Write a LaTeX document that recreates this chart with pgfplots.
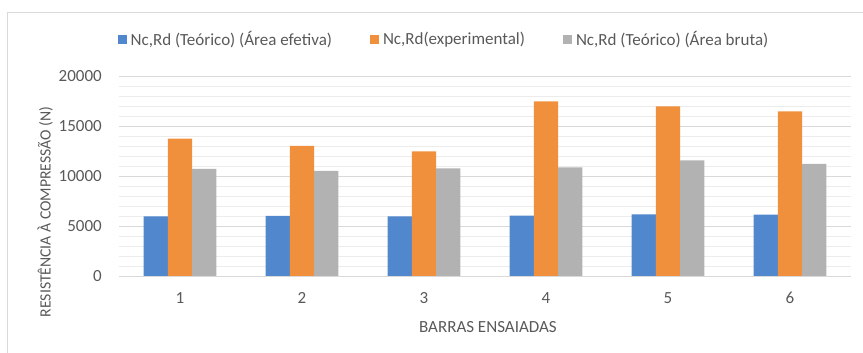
\documentclass[border=0pt]{standalone}
\usepackage{pgfplots}
\pgfplotsset{compat=1.18}
\usepackage{fontspec}
\setmainfont{Carlito}
\definecolor{cblue}{RGB}{80,135,205}
\definecolor{corange}{RGB}{240,144,60}
\definecolor{cgrey}{RGB}{178,178,178}
\definecolor{ctext}{RGB}{89,89,89}
\definecolor{gridmaj}{RGB}{217,217,217}
\definecolor{gridmin}{RGB}{236,236,236}
\definecolor{frame}{RGB}{217,217,217}
\begin{document}
\begin{tikzpicture}[x=1pt,y=1pt]
\path[use as bounding box] (0,0) rectangle (863,353);
\draw[frame, line width=0.8pt] (7.5,0) -- (7.5,341) -- (863,341);
\begin{axis}[
  at={(119pt,77pt)}, anchor=south west,
  scale only axis, width=732pt, height=200pt,
  xmin=0.5, xmax=6.5, ymin=0, ymax=20000,
  ybar=0pt, bar width=24.3pt,
  xtick={1,2,3,4,5,6},
  ytick={0,5000,10000,15000,20000},
  scaled y ticks=false,
  minor ytick={1000,2000,3000,4000,6000,7000,8000,9000,11000,12000,13000,14000,16000,17000,18000,19000},
  ymajorgrids, yminorgrids,
  major grid style={draw=gridmaj, line width=0.9pt},
  minor grid style={draw=gridmin, line width=0.9pt},
  axis line style={draw=none},
  major tick length=0pt, minor tick length=0pt,
  /pgf/number format/assume math mode=true,
  /pgf/number format/set thousands separator={},
  tick label style={font=\fontsize{17}{20}\selectfont, text=ctext, inner sep=0pt},
  yticklabel style={anchor=east, xshift=-17pt},
  xticklabel style={anchor=center, yshift=-22pt},
  xlabel={BARRAS ENSAIADAS},
  xlabel style={at={(axis description cs:0.504,-0.255)}, anchor=center, font=\fontsize{17}{20}\selectfont, text=ctext, inner sep=0pt},
  ylabel={RESISTÊNCIA À COMPRESSÃO (N)},
  ylabel style={at={(axis description cs:-0.101,0.32)}, anchor=center, rotate=0, font=\fontsize{15.7}{18}\selectfont, text=ctext, inner sep=0pt},
  legend columns=3,
  legend style={at={(axis description cs:0.4426,1.1835)}, anchor=center, draw=none, fill=none,
    font=\fontsize{17}{20}\selectfont, text=ctext, nodes={inner sep=0pt},
    /tikz/every odd column/.append style={column sep=4pt},
    /tikz/every even column/.append style={column sep=38pt}},
  legend cell align=left,
]
\addplot[fill=cblue, draw=none, legend image code/.code={\fill[cblue] (0pt,-4.5pt) rectangle (9pt,4.5pt);}] coordinates {(1,5970) (2,6020) (3,5970) (4,6040) (5,6170) (6,6140)};
\addplot[fill=corange, draw=none, legend image code/.code={\fill[corange] (0pt,-4.5pt) rectangle (9pt,4.5pt);}] coordinates {(1,13730) (2,13000) (3,12470) (4,17470) (5,16970) (6,16470)};
\addplot[fill=cgrey, draw=none, legend image code/.code={\fill[cgrey] (0pt,-4.5pt) rectangle (9pt,4.5pt);}] coordinates {(1,10700) (2,10500) (3,10770) (4,10870) (5,11570) (6,11200)};
\legend{{Nc,Rd (Teórico) (Área efetiva)}, {Nc,Rd(experimental)}, {Nc,Rd (Teórico) (Área bruta)}}
\end{axis}
\end{tikzpicture}
\end{document}
